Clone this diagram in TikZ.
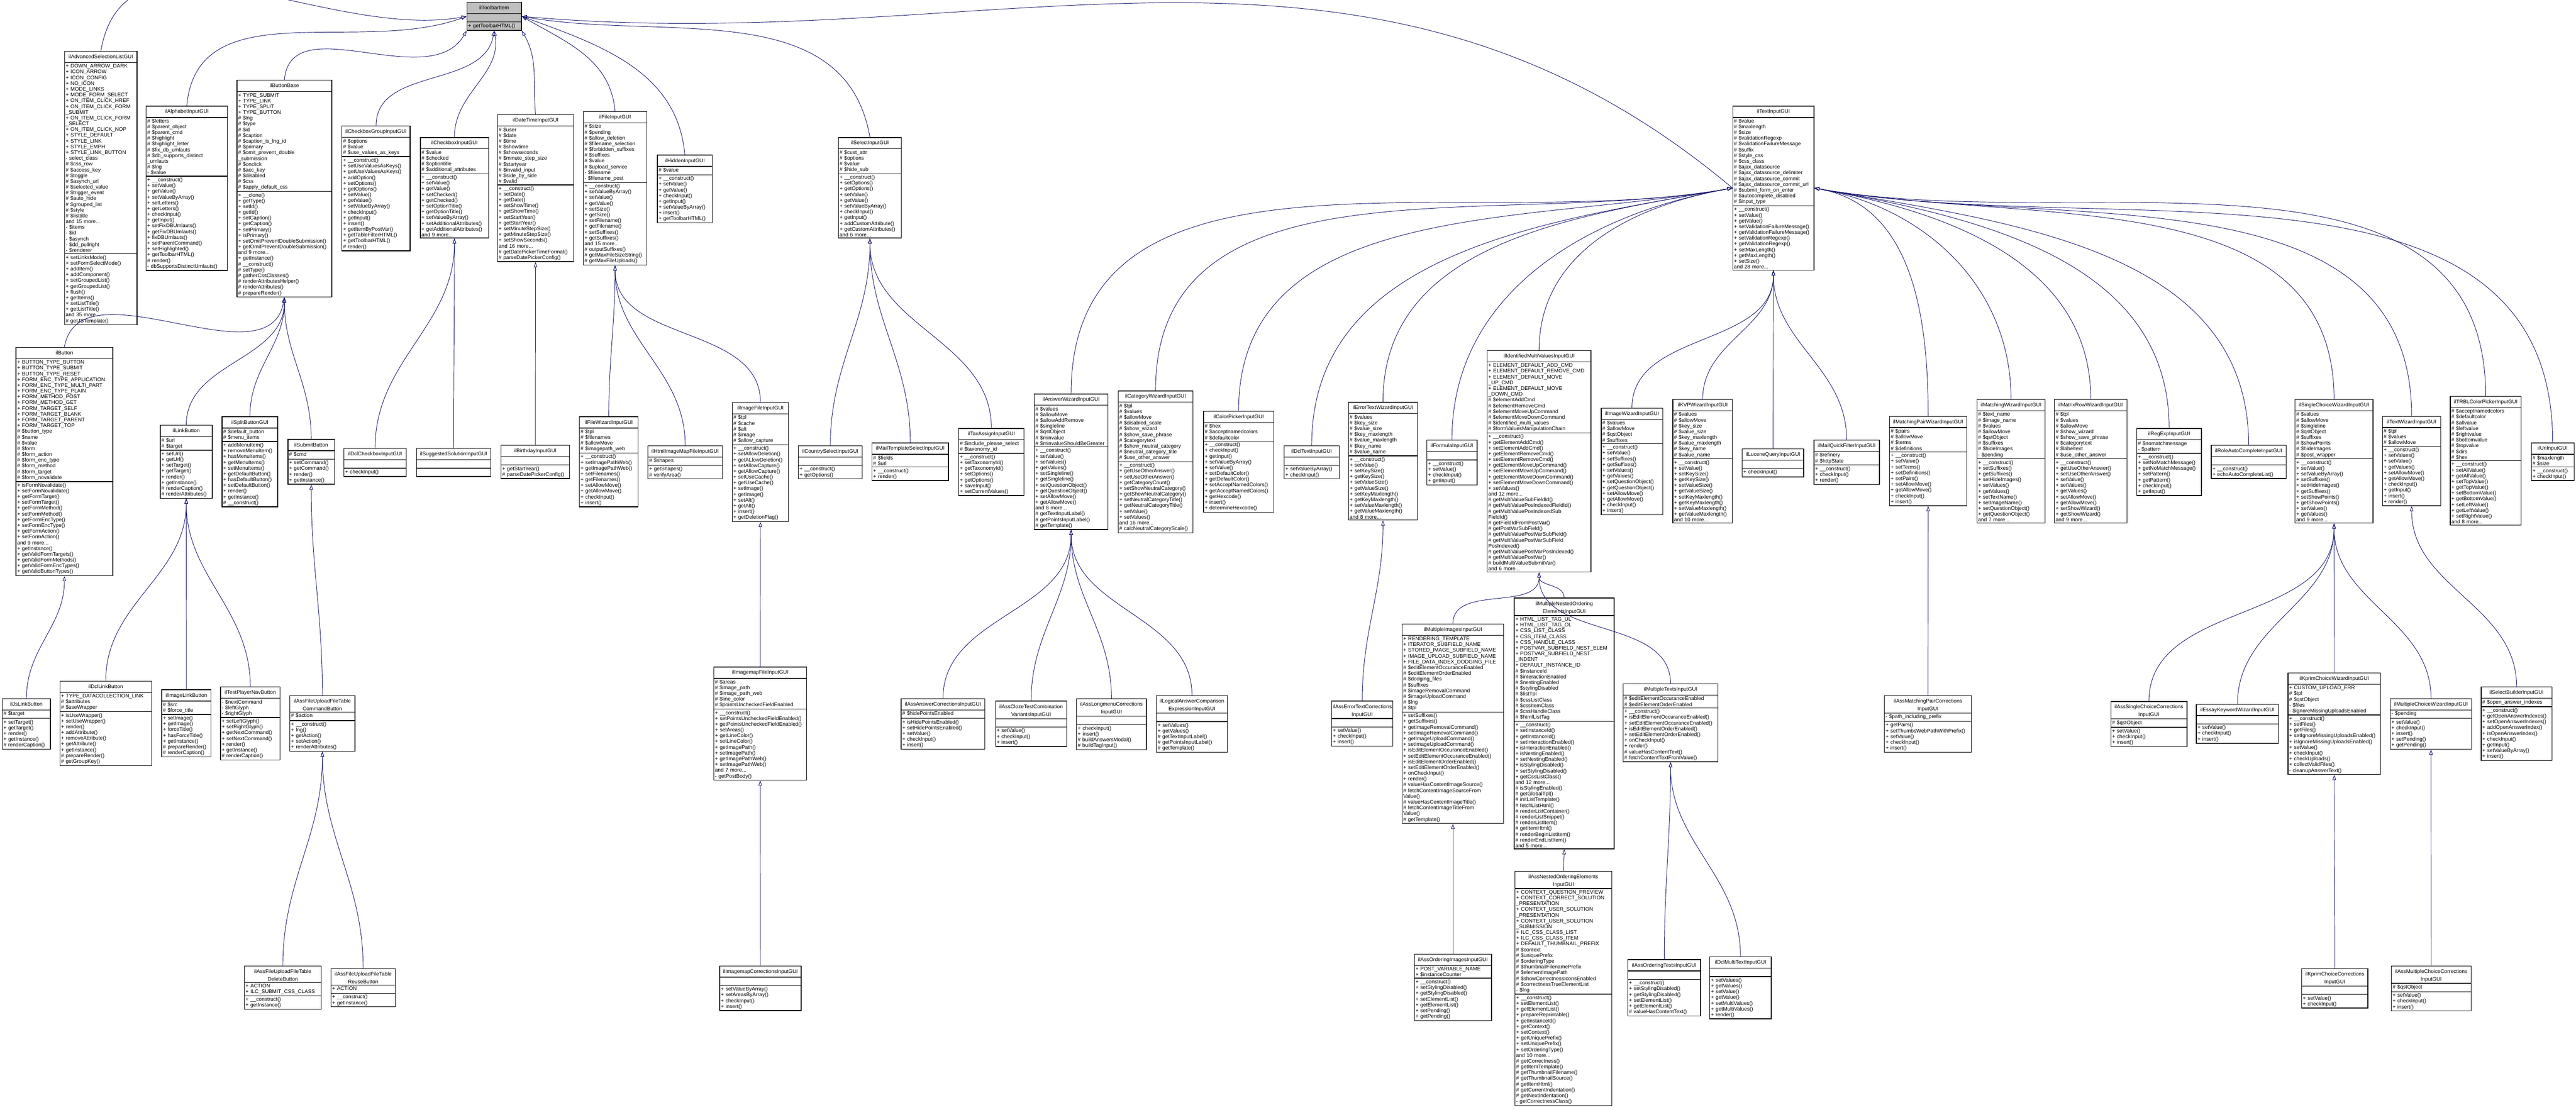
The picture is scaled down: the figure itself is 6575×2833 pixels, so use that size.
\documentclass[tikz,border=0pt]{standalone}
\usepackage{fontspec}
\setmainfont{Liberation Sans}
\usetikzlibrary{shapes.multipart,arrows.meta}
\definecolor{edge}{HTML}{191970}
\catcode`\_=12
\tikzset{
 cls/.style={rectangle split, rectangle split parts=3, draw=black, line width=0.5pt, fill=white,
   inner xsep=0.03cm, inner ysep=0.025cm, anchor=north west, font=\fontsize{3.8}{4.18}\selectfont},
 inh/.style={draw=edge, line width=0.35pt, -{Triangle[open,length=0.13cm,width=0.09cm]}}
}
\newcommand\cls[8][]{%
 \pgfmathsetlengthmacro\clstw{(#4-6)*0.01cm}%
 \node[cls,text width=\clstw,#1] (#2) at (#3) {\centering\rule[-0.07cm]{0pt}{0.22cm}#5\par\nodepart{two}\raggedright\strut #6\nodepart{three}\raggedright\strut #7#8};}
\newcommand\inh[2]{\draw[inh] (#1.north) to[out=90,in=-90] (#2.south);}
\begin{document}
\begin{tikzpicture}[x=0.01cm,y=-0.01cm]
\useasboundingbox (0,0) rectangle (6575,2833);
% ---- row 0
\cls[fill=black!25]{tb}{1191,5}{139}{ilToolbarItem}{}{+ getToolbarHTML()}{}
% ---- row 1
\cls{advsel}{164,130}{185}{ilAdvancedSelectionListGUI}{+ DOWN_ARROW_DARK\\+ ICON_ARROW\\+ ICON_CONFIG\\+ NO_ICON\\+ MODE_LINKS\\+ MODE_FORM_SELECT\\+ ON_ITEM_CLICK_HREF\\+ ON_ITEM_CLICK_FORM\\ _SUBMIT\\+ ON_ITEM_CLICK_FORM\\ _SELECT\\+ ON_ITEM_CLICK_NOP\\+ STYLE_DEFAULT\\+ STYLE_LINK\\+ STYLE_EMPH\\+ STYLE_LINK_BUTTON\\- select_class\\\# \$css_row\\\# \$access_key\\\# \$toggle\\\# \$asynch_url\\\# \$selected_value\\\# \$trigger_event\\\# \$auto_hide\\\# \$grouped_list\\\# \$style\\\# \$listtitle\\and 15 more...\\- \$items\\- \$id\\- \$asynch\\- \$dd_pullright\\- \$renderer}{+ setLinksMode()\\+ setFormSelectMode()\\+ addItem()\\+ addComponent()\\+ setGroupedList()\\+ getGroupedList()\\+ flush()\\+ getItems()\\+ setListTitle()\\+ getListTitle()\\and 35 more...\\\# getJSTemplate()}{}
\cls{alpha}{372,270}{208}{ilAlphabetInputGUI}{\# \$letters\\\# \$parent_object\\\# \$parent_cmd\\\# \$highlight\\\# \$highlight_letter\\\# \$fix_db_umlauts\\\# \$db_supports_distinct\\ _umlauts\\\# \$lng\\- \$value}{+ __construct()\\+ setValue()\\+ getValue()\\+ setValueByArray()\\+ setLetters()\\+ getLetters()\\+ checkInput()\\+ getInput()\\+ setFixDBUmlauts()\\+ getFixDBUmlauts()\\+ fixDBUmlauts()\\+ setParentCommand()\\+ setHighlighted()\\+ getToolbarHTML()\\\# render()\\- dbSupportsDistinctUmlauts()}{}
\cls{bbase}{604,204}{242}{ilButtonBase}{+ TYPE_SUBMIT\\+ TYPE_LINK\\+ TYPE_SPLIT\\+ TYPE_BUTTON\\\# \$lng\\\# \$type\\\# \$id\\\# \$caption\\\# \$caption_is_lng_id\\\# \$primary\\\# \$omit_prevent_double\\ _submission\\\# \$onclick\\\# \$acc_key\\\# \$disabled\\\# \$css\\\# \$apply_default_css}{+ __clone()\\+ getType()\\+ setId()\\+ getId()\\+ setCaption()\\+ getCaption()\\+ setPrimary()\\+ isPrimary()\\+ setOmitPreventDoubleSubmission()\\+ getOmitPreventDoubleSubmission()\\and 9 more...\\+ getInstance()\\\# __construct()\\\# setType()\\\# gatherCssClasses()\\\# renderAttributesHelper()\\\# renderAttributes()\\\# prepareRender()}{}
\cls{cbgroup}{872,321}{174}{ilCheckboxGroupInputGUI}{\# \$options\\\# \$value\\\# \$use_values_as_keys}{+ __construct()\\+ setUseValuesAsKeys()\\+ getUseValuesAsKeys()\\+ addOption()\\+ setOptions()\\+ getOptions()\\+ setValue()\\+ getValue()\\+ setValueByArray()\\+ checkInput()\\+ getInput()\\+ insert()\\+ getItemByPostVar()\\+ getTableFilterHTML()\\+ getToolbarHTML()\\\# render()}{}
\cls{cbox}{1072,350}{174}{ilCheckboxInputGUI}{\# \$value\\\# \$checked\\\# \$optiontitle\\\# \$additional_attributes}{+ __construct()\\+ setValue()\\+ getValue()\\+ setChecked()\\+ getChecked()\\+ setOptionTitle()\\+ getOptionTitle()\\+ setValueByArray()\\+ setAdditionalAttributes()\\+ getAdditionalAttributes()\\and 9 more...}{}
\cls{dt}{1269,292}{194}{ilDateTimeInputGUI}{\# \$user\\\# \$date\\\# \$time\\\# \$showtime\\\# \$showseconds\\\# \$minute_step_size\\\# \$startyear\\\# \$invalid_input\\\# \$side_by_side\\\# \$valid}{+ __construct()\\+ setDate()\\+ getDate()\\+ setShowTime()\\+ getShowTime()\\+ setStartYear()\\+ getStartYear()\\+ setMinuteStepSize()\\+ getMinuteStepSize()\\+ setShowSeconds()\\and 16 more...\\\# getDatePickerTimeFormat()\\\# parseDatePickerConfig()}{}
\cls{file}{1488,284}{162}{ilFileInputGUI}{\# \$size\\\# \$pending\\\# \$allow_deletion\\\# \$filename_selection\\\# \$forbidden_suffixes\\\# \$suffixes\\\# \$value\\\# \$upload_service\\- \$filename\\- \$filename_post}{+ __construct()\\+ setValueByArray()\\+ setValue()\\+ getValue()\\+ setSize()\\+ getSize()\\+ setFilename()\\+ getFilename()\\+ setSuffixes()\\+ getSuffixes()\\and 15 more...\\\# outputSuffixes()\\\# getMaxFileSizeString()\\\# getMaxFileUploads()}{}
\cls{hidden}{1677,395}{140}{ilHiddenInputGUI}{\# \$value}{+ __construct()\\+ setValue()\\+ getValue()\\+ checkInput()\\+ getInput()\\+ setValueByArray()\\+ insert()\\+ getToolbarHTML()}{}
\cls{select}{2139,350}{161}{ilSelectInputGUI}{\# \$cust_attr\\\# \$options\\\# \$value\\\# \$hide_sub}{+ __construct()\\+ setOptions()\\+ getOptions()\\+ setValue()\\+ getValue()\\+ setValueByArray()\\+ checkInput()\\+ getInput()\\+ addCustomAttribute()\\+ getCustomAttributes()\\and 6 more...}{}
\cls{ti}{4422,270}{207}{ilTextInputGUI}{\# \$value\\\# \$maxlength\\\# \$size\\\# \$validationRegexp\\\# \$validationFailureMessage\\\# \$suffix\\\# \$style_css\\\# \$css_class\\\# \$ajax_datasource\\\# \$ajax_datasource_delimiter\\\# \$ajax_datasource_commit\\\# \$ajax_datasource_commit_url\\\# \$submit_form_on_enter\\\# \$autocomplete_disabled\\\# \$input_type}{+ __construct()\\+ setValue()\\+ getValue()\\+ setValidationFailureMessage()\\+ getValidationFailureMessage()\\+ setValidationRegexp()\\+ getValidationRegexp()\\+ setMaxLength()\\+ getMaxLength()\\+ setSize()\\and 28 more...}{}
% ---- row 2
\cls{button}{40,886}{247}{ilButton}{+ BUTTON_TYPE_BUTTON\\+ BUTTON_TYPE_SUBMIT\\+ BUTTON_TYPE_RESET\\+ FORM_ENC_TYPE_APPLICATION\\+ FORM_ENC_TYPE_MULTI_PART\\+ FORM_ENC_TYPE_PLAIN\\+ FORM_METHOD_POST\\+ FORM_METHOD_GET\\+ FORM_TARGET_SELF\\+ FORM_TARGET_BLANK\\+ FORM_TARGET_PARENT\\+ FORM_TARGET_TOP\\\# \$button_type\\\# \$name\\\# \$value\\\# \$form\\\# \$form_action\\\# \$form_enc_type\\\# \$form_method\\\# \$form_target\\\# \$form_novalidate}{+ isFormNovalidate()\\+ setFormNovalidate()\\+ getFormTarget()\\+ setFormTarget()\\+ getFormMethod()\\+ setFormMethod()\\+ getFormEncType()\\+ setFormEncType()\\+ getFormAction()\\+ setFormAction()\\and 9 more...\\+ getInstance()\\+ getValidFormTargets()\\+ getValidFormMethods()\\+ getValidFormEncTypes()\\+ getValidButtonTypes()}{}
\cls{link}{408,1085}{133}{ilLinkButton}{\# \$url\\\# \$target}{+ setUrl()\\+ getUrl()\\+ setTarget()\\+ getTarget()\\+ render()\\+ getInstance()\\\# renderCaption()\\\# renderAttributes()}{}
\cls{split}{566,1063}{142}{ilSplitButtonGUI}{\# \$default_button\\\# \$menu_items}{+ addMenuItem()\\+ removeMenuItem()\\+ hasMenuItems()\\+ getMenuItems()\\+ setMenuItems()\\+ getDefaultButton()\\+ hasDefaultButton()\\+ setDefaultButton()\\+ render()\\+ getInstance()\\\# __construct()}{}
\cls{submit}{734,1121}{119}{ilSubmitButton}{\# \$cmd}{+ setCommand()\\+ getCommand()\\+ render()\\+ getInstance()}{}
\cls{dclcb}{877,1144}{159}{ilDclCheckboxInputGUI}{}{+ checkInput()}{}
\cls{sugg}{1062,1144}{190}{ilSuggestedSolutionInputGUI}{}{}{}
\cls{birth}{1278,1136}{175}{ilBirthdayInputGUI}{}{+ getStartYear()\\\# parseDatePickerConfig()}{}
\cls{fwiz}{1478,1063}{150}{ilFileWizardInputGUI}{\# \$tpl\\\# \$filenames\\\# \$allowMove\\\# \$imagepath_web}{+ __construct()\\+ setImagePathWeb()\\+ getImagePathWeb()\\+ setFilenames()\\+ getFilenames()\\+ setAllowMove()\\+ getAllowMove()\\+ checkInput()\\+ insert()}{}
\cls{htmlmap}{1653,1137}{190}{ilHtmlImageMapFileInputGUI}{\# \$shapes}{+ getShapes()\\\# verifyArea()}{}
\cls{imgfile}{1868,1027}{144}{ilImageFileInputGUI}{\# \$tpl\\\# \$cache\\\# \$alt\\\# \$image\\\# \$allow_capture}{+ __construct()\\+ setAllowDeletion()\\+ getALlowDeletion()\\+ setAllowCapture()\\+ getAllowCapture()\\+ setUseCache()\\+ getUseCache()\\+ setImage()\\+ getImage()\\+ setAlt()\\+ getAlt()\\+ insert()\\+ getDeletionFlag()}{}
\cls{country}{2037,1137}{163}{ilCountrySelectInputGUI}{}{+ __construct()\\+ getOptions()}{}
\cls{mailtpl}{2225,1130}{195}{ilMailTemplateSelectInputGUI}{\# \$fields\\\# \$url}{+ __construct()\\+ render()}{}
\cls{tax}{2446,1093}{167}{ilTaxAssignInputGUI}{\# \$include_please_select\\\# \$taxonomy_id}{+ __construct()\\+ setTaxonomyId()\\+ getTaxonomyId()\\+ setOptions()\\+ getOptions()\\+ saveInput()\\+ setCurrentValues()}{}
\cls{answiz}{2639,1005}{188}{ilAnswerWizardInputGUI}{\# \$values\\\# \$allowMove\\\# \$allowAddRemove\\\# \$singleline\\\# \$qstObject\\\# \$minvalue\\\# \$minvalueShouldBeGreater}{+ __construct()\\+ setValue()\\+ setValues()\\+ getValues()\\+ setSingleline()\\+ getSingleline()\\+ setQuestionObject()\\+ getQuestionObject()\\+ setAllowMove()\\+ getAllowMove()\\and 8 more...\\\# getTextInputLabel()\\\# getPointsInputLabel()\\\# getTemplate()}{}
\cls{catwiz}{2853,997}{191}{ilCategoryWizardInputGUI}{\# \$tpl\\\# \$values\\\# \$allowMove\\\# \$disabled_scale\\\# \$show_wizard\\\# \$show_save_phrase\\\# \$categorytext\\\# \$show_neutral_category\\\# \$neutral_category_title\\\# \$use_other_answer}{+ __construct()\\+ getUseOtherAnswer()\\+ setUseOtherAnswer()\\+ getCategoryCount()\\+ setShowNeutralCategory()\\+ getShowNeutralCategory()\\+ setNeutralCategoryTitle()\\+ getNeutralCategoryTitle()\\+ setValue()\\+ setValues()\\and 16 more...\\\# calcNeutralCategoryScale()}{}
\cls{color}{3071,1049}{179}{ilColorPickerInputGUI}{\# \$hex\\\# \$acceptnamedcolors\\\# \$defaultcolor}{+ __construct()\\+ checkInput()\\+ getInput()\\+ setValueByArray()\\+ setValue()\\+ setDefaultColor()\\+ getDefaultColor()\\+ setAcceptNamedColors()\\+ getAcceptNamedColors()\\+ getHexcode()\\+ insert()\\+ determineHexcode()}{}
\cls{dcltext}{3277,1137}{140}{ilDclTextInputGUI}{}{+ setValueByArray()\\+ checkInput()}{}
\cls{errwiz}{3441,1026}{176}{ilErrorTextWizardInputGUI}{\# \$values\\\# \$key_size\\\# \$value_size\\\# \$key_maxlength\\\# \$value_maxlength\\\# \$key_name\\\# \$value_name}{+ __construct()\\+ setValue()\\+ setKeySize()\\+ getKeySize()\\+ setValueSize()\\+ getValueSize()\\+ setKeyMaxlength()\\+ getKeyMaxlength()\\+ setValueMaxlength()\\+ getValueMaxlength()\\and 8 more...}{}
\cls{formula}{3641,1123}{128}{ilFormulaInputGUI}{}{+ __construct()\\+ setValue()\\+ checkInput()\\+ getInput()}{}
\cls{idmulti}{3795,894}{265}{ilIdentifiedMultiValuesInputGUI}{+ ELEMENT_DEFAULT_ADD_CMD\\+ ELEMENT_DEFAULT_REMOVE_CMD\\+ ELEMENT_DEFAULT_MOVE\\ _UP_CMD\\+ ELEMENT_DEFAULT_MOVE\\ _DOWN_CMD\\\# \$elementAddCmd\\\# \$elementRemoveCmd\\\# \$elementMoveUpCommand\\\# \$elementMoveDownCommand\\\# \$identified_multi_values\\\# \$formValuesManipulationChain}{+ __construct()\\+ getElementAddCmd()\\+ setElementAddCmd()\\+ getElementRemoveCmd()\\+ setElementRemoveCmd()\\+ getElementMoveUpCommand()\\+ setElementMoveUpCommand()\\+ getElementMoveDownCommand()\\+ setElementMoveDownCommand()\\+ setValues()\\and 12 more...\\\# getMultiValueSubFieldId()\\\# getMultiValuePosIndexedFieldId()\\\# getMultiValuePosIndexedSub\\FieldId()\\\# getFieldIdFromPostVar()\\\# getPostVarSubField()\\\# getMultiValuePostVarSubField()\\\# getMultiValuePostVarSubField\\PosIndexed()\\\# getMultiValuePostVarPosIndexed()\\\# getMultiValuePostVar()\\\# buildMultiValueSubmitVar()\\and 6 more...}{}
\cls{imgwiz}{4086,1041}{157}{ilImageWizardInputGUI}{\# \$values\\\# \$allowMove\\\# \$qstObject\\\# \$suffixes}{+ __construct()\\+ setValue()\\+ setSuffixes()\\+ getSuffixes()\\+ setValues()\\+ getValues()\\+ setQuestionObject()\\+ getQuestionObject()\\+ setAllowMove()\\+ getAllowMove()\\+ checkInput()\\+ insert()}{}
\cls{kvp}{4269,1019}{152}{ilKVPWizardInputGUI}{\# \$values\\\# \$allowMove\\\# \$key_size\\\# \$value_size\\\# \$key_maxlength\\\# \$value_maxlength\\\# \$key_name\\\# \$value_name}{+ __construct()\\+ setValue()\\+ setKeySize()\\+ getKeySize()\\+ setValueSize()\\+ getValueSize()\\+ setKeyMaxlength()\\+ getKeyMaxlength()\\+ setValueMaxlength()\\+ getValueMaxlength()\\and 10 more...}{}
\cls{lucene}{4446,1145}{157}{ilLuceneQueryInputGUI}{}{+ checkInput()}{}
\cls{mailqf}{4629,1123}{167}{ilMailQuickFilterInputGUI}{\# \$refinery\\\# \$httpState}{+ __construct()\\+ checkInput()\\+ render()}{}
\cls{mpair}{4822,1062}{197}{ilMatchingPairWizardInputGUI}{\# \$pairs\\\# \$allowMove\\\# \$terms\\\# \$definitions}{+ __construct()\\+ setValue()\\+ setTerms()\\+ setDefinitions()\\+ setPairs()\\+ setAllowMove()\\+ getAllowMove()\\+ checkInput()\\+ insert()}{}
\cls{mwiz}{5045,1019}{174}{ilMatchingWizardInputGUI}{\# \$text_name\\\# \$image_name\\\# \$values\\\# \$allowMove\\\# \$qstObject\\\# \$suffixes\\\# \$hideImages\\- \$pending}{+ __construct()\\+ setSuffixes()\\+ getSuffixes()\\+ setHideImages()\\+ setValues()\\+ getValues()\\+ setTextName()\\+ setImageName()\\+ setQuestionObject()\\+ getQuestionObject()\\and 7 more...}{}
\cls{matrix}{5243,1019}{185}{ilMatrixRowWizardInputGUI}{\# \$tpl\\\# \$values\\\# \$allowMove\\\# \$show_wizard\\\# \$show_save_phrase\\\# \$categorytext\\\# \$labeltext\\\# \$use_other_answer}{+ __construct()\\+ getUseOtherAnswer()\\+ setUseOtherAnswer()\\+ setValue()\\+ setValues()\\+ getValues()\\+ setAllowMove()\\+ getAllowMove()\\+ setShowWizard()\\+ getShowWizard()\\and 9 more...}{}
\cls{regexp}{5453,1093}{165}{ilRegExpInputGUI}{\# \$nomatchmessage\\- \$pattern}{+ __construct()\\+ setNoMatchMessage()\\+ getNoMatchMessage()\\+ setPattern()\\+ getPattern()\\+ checkInput()\\+ getInput()}{}
\cls{role}{5643,1136}{191}{ilRoleAutoCompleteInputGUI}{}{+ __construct()\\+ echoAutoCompleteList()}{}
\cls{scwiz}{5857,1019}{199}{ilSingleChoiceWizardInputGUI}{\# \$values\\\# \$allowMove\\\# \$singleline\\\# \$qstObject\\\# \$suffixes\\\# \$showPoints\\\# \$hideImages\\\# \$post_wrapper}{+ __construct()\\+ setValue()\\+ setValueByArray()\\+ setSuffixes()\\+ setHideImages()\\+ getSuffixes()\\+ setShowPoints()\\+ getShowPoints()\\+ setValues()\\+ getValues()\\and 9 more...}{}
\cls{txtwiz}{6080,1062}{149}{ilTextWizardInputGUI}{\# \$tpl\\\# \$values\\\# \$allowMove}{+ __construct()\\+ setValues()\\+ setValue()\\+ getValues()\\+ setAllowMove()\\+ getAllowMove()\\+ checkInput()\\+ getInput()\\+ insert()\\+ render()}{}
\cls{trbl}{6253,1011}{181}{ilTRBLColorPickerInputGUI}{\# \$acceptnamedcolors\\\# \$defaultcolor\\\# \$allvalue\\\# \$leftvalue\\\# \$rightvalue\\\# \$bottomvalue\\\# \$topvalue\\\# \$dirs\\\# \$hex}{+ __construct()\\+ setAllValue()\\+ getAllValue()\\+ setTopValue()\\+ getTopValue()\\+ setBottomValue()\\+ getBottomValue()\\+ setLeftValue()\\+ getLeftValue()\\+ setRightValue()\\and 8 more...}{}
\cls{uri}{6460,1130}{109}{ilUriInputGUI}{\# \$maxlength\\\# \$size}{+ __construct()\\+ checkInput()}{}
% ---- row 3
\cls{jslink}{5,1783}{123}{ilJsLinkButton}{\# \$target}{+ setTarget()\\+ getTarget()\\+ render()\\+ getInstance()\\\# renderCaption()}{}
\cls{dcllink}{152,1738}{234}{ilDclLinkButton}{+ TYPE_DATACOLLECTION_LINK\\\# \$attributes\\\# \$useWrapper}{+ isUseWrapper()\\+ setUseWrapper()\\+ render()\\+ addAttribute()\\+ removeAttribute()\\+ getAttribute()\\+ getInstance()\\\# prepareRender()\\\# getGroupKey()}{}
\cls{imglink}{412,1760}{126}{ilImageLinkButton}{\# \$src\\\# \$force_title}{+ setImage()\\+ getImage()\\+ forceTitle()\\+ hasForceTitle()\\+ getInstance()\\\# prepareRender()\\\# renderCaption()}{}
\cls{tpnav}{562,1753}{152}{ilTestPlayerNavButton}{- \$nextCommand\\- \$leftGlyph\\- \$rightGlyph}{+ setLeftGlyph()\\+ setRightGlyph()\\+ getNextCommand()\\+ setNextCommand()\\+ render()\\+ getInstance()\\\# renderCaption()}{}
\cls{cmdbtn}{739,1775}{166}{ilAssFileUploadFileTable\\CommandButton}{\# \$action}{+ __construct()\\+ lng()\\+ getAction()\\+ setAction()\\+ renderAttributes()}{}
\cls{imgmap}{1821,1702}{237}{ilImagemapFileInputGUI}{\# \$areas\\\# \$image_path\\\# \$image_path_web\\\# \$line_color\\\# \$pointsUncheckedFieldEnabled}{+ __construct()\\+ setPointsUncheckedFieldEnabled()\\+ getPointsUncheckedFieldEnabled()\\+ setAreas()\\+ getLineColor()\\+ setLineColor()\\+ getImagePath()\\+ setImagePath()\\+ getImagePathWeb()\\+ setImagePathWeb()\\and 7 more...\\- getPostBody()}{}
\cls{anscorr}{2299,1783}{214}{ilAssAnswerCorrectionsInputGUI}{\# \$hidePointsEnabled}{+ isHidePointsEnabled()\\+ setHidePointsEnabled()\\+ setValue()\\+ checkInput()\\+ insert()}{}
\cls{cloze}{2540,1789}{182}{ilAssClozeTestCombination\\VariantsInputGUI}{}{+ setValue()\\+ checkInput()\\+ insert()}{}
\cls{longmenu}{2747,1783}{178}{ilAssLongmenuCorrections\\InputGUI}{}{+ checkInput()\\+ insert()\\\# buildAnswersModal()\\\# buildTagInput()}{}
\cls{logical}{2951,1775}{181}{ilLogicalAnswerComparison\\ExpressionInputGUI}{}{+ setValues()\\+ getValues()\\\# getTextInputLabel()\\\# getPointsInputLabel()\\\# getTemplate()}{}
\cls{errcorr}{3398,1789}{156}{ilAssErrorTextCorrections\\InputGUI}{}{+ setValue()\\+ checkInput()\\+ insert()}{}
\cls{mimages}{3578,1592}{259}{ilMultipleImagesInputGUI}{+ RENDERING_TEMPLATE\\+ ITERATOR_SUBFIELD_NAME\\+ STORED_IMAGE_SUBFIELD_NAME\\+ IMAGE_UPLOAD_SUBFIELD_NAME\\+ FILE_DATA_INDEX_DODGING_FILE\\\# \$editElementOccuranceEnabled\\\# \$editElementOrderEnabled\\\# \$dodging_files\\\# \$suffixes\\\# \$imageRemovalCommand\\\# \$imageUploadCommand\\\# \$lng\\\# \$tpl}{+ setSuffixes()\\+ getSuffixes()\\+ getImageRemovalCommand()\\+ setImageRemovalCommand()\\+ getImageUploadCommand()\\+ setImageUploadCommand()\\+ isEditElementOccuranceEnabled()\\+ setEditElementOccuranceEnabled()\\+ isEditElementOrderEnabled()\\+ setEditElementOrderEnabled()\\+ onCheckInput()\\+ render()\\\# valueHasContentImageSource()\\\# fetchContentImageSourceFrom\\Value()\\\# valueHasContentImageTitle()\\\# fetchContentImageTitleFrom\\Value()\\\# getTemplate()}{}
\cls{mnested}{3864,1526}{255}{ilMultipleNestedOrdering\\ElementsInputGUI}{+ HTML_LIST_TAG_UL\\+ HTML_LIST_TAG_OL\\+ CSS_LIST_CLASS\\+ CSS_ITEM_CLASS\\+ CSS_HANDLE_CLASS\\+ POSTVAR_SUBFIELD_NEST_ELEM\\+ POSTVAR_SUBFIELD_NEST\\ _INDENT\\+ DEFAULT_INSTANCE_ID\\\# \$instanceId\\\# \$interactionEnabled\\\# \$nestingEnabled\\\# \$stylingDisabled\\\# \$listTpl\\\# \$cssListClass\\\# \$cssItemClass\\\# \$cssHandleClass\\\# \$htmlListTag}{+ __construct()\\+ setInstanceId()\\+ getInstanceId()\\+ setInteractionEnabled()\\+ isInteractionEnabled()\\+ isNestingEnabled()\\+ setNestingEnabled()\\+ isStylingDisabled()\\+ setStylingDisabled()\\+ getCssListClass()\\and 12 more...\\\# isStylingEnabled()\\\# getGlobalTpl()\\\# initListTemplate()\\\# fetchListHtml()\\\# renderListContainer()\\\# renderListSnippet()\\\# renderListItem()\\\# getItemHtml()\\\# renderBeginListItem()\\\# renderEndListItem()\\and 5 more...}{}
\cls{mtexts}{4142,1745}{242}{ilMultipleTextsInputGUI}{\# \$editElementOccuranceEnabled\\\# \$editElementOrderEnabled}{+ __construct()\\+ isEditElementOccuranceEnabled()\\+ setEditElementOccuranceEnabled()\\+ isEditElementOrderEnabled()\\+ setEditElementOrderEnabled()\\+ onCheckInput()\\+ render()\\\# valueHasContentText()\\\# fetchContentTextFromValue()}{}
\cls{mpcorr}{4809,1775}{222}{ilAssMatchingPairCorrections\\InputGUI}{- \$path_including_prefix}{+ getPairs()\\+ setThumbsWebPathWithPrefix()\\+ setValue()\\+ checkInput()\\+ insert()}{}
\cls{sccorr}{5387,1790}{194}{ilAssSingleChoiceCorrections\\InputGUI}{\# \$qstObject}{+ setValue()\\+ checkInput()\\+ insert()}{}
\cls{essay}{5605,1797}{210}{ilEssayKeywordWizardInputGUI}{}{+ setValue()\\+ checkInput()\\+ insert()}{}
\cls{kprim}{5839,1717}{236}{ilKprimChoiceWizardInputGUI}{+ CUSTOM_UPLOAD_ERR\\\# \$tpl\\\# \$qstObject\\- \$files\\- \$ignoreMissingUploadsEnabled}{+ __construct()\\+ setFiles()\\+ getFiles()\\+ setIgnoreMissingUploadsEnabled()\\+ isIgnoreMissingUploadsEnabled()\\+ setValue()\\+ checkInput()\\+ checkUploads()\\+ collectValidFiles()\\- cleanupAnswerText()}{}
\cls{mcwiz}{6100,1783}{208}{ilMultipleChoiceWizardInputGUI}{- \$pending}{+ setValue()\\+ checkInput()\\+ insert()\\+ setPending()\\+ getPending()}{}
\cls{selbuild}{6332,1753}{181}{ilSelectBuilderInputGUI}{\# \$open_answer_indexes}{+ __construct()\\+ getOpenAnswerIndexes()\\+ setOpenAnswerIndexes()\\+ addOpenAnswerIndex()\\+ isOpenAnswerIndex()\\+ checkInput()\\+ getInput()\\+ setValueByArray()\\+ insert()}{}
% ---- row 4
\cls{delbtn}{623,2465}{196}{ilAssFileUploadFileTable\\DeleteButton}{+ ACTION\\+ ILC_SUBMIT_CSS_CLASS}{+ __construct()\\+ getInstance()}{}
\cls{reubtn}{844,2472}{164}{ilAssFileUploadFileTable\\ReuseButton}{+ ACTION}{+ __construct()\\+ getInstance()}{}
\cls{imgmapcorr}{1836,2465}{208}{ilImagemapCorrectionsInputGUI}{}{+ setValueByArray()\\+ setAreasByArray()\\+ checkInput()\\+ insert()}{}
\cls{ordimg}{3609,2435}{197}{ilAssOrderingImagesInputGUI}{+ POST_VARIABLE_NAME\\+ \$instanceCounter}{+ __construct()\\+ setStylingDisabled()\\+ getStylingDisabled()\\+ setElementList()\\+ getElementList()\\+ setPending()\\+ getPending()}{}
\cls{nested}{3866,2223}{247}{ilAssNestedOrderingElements\\InputGUI}{+ CONTEXT_QUESTION_PREVIEW\\+ CONTEXT_CORRECT_SOLUTION\\ _PRESENTATION\\+ CONTEXT_USER_SOLUTION\\ _PRESENTATION\\+ CONTEXT_USER_SOLUTION\\ _SUBMISSION\\+ ILC_CSS_CLASS_LIST\\+ ILC_CSS_CLASS_ITEM\\+ DEFAULT_THUMBNAIL_PREFIX\\\# \$context\\\# \$uniquePrefix\\\# \$orderingType\\\# \$thumbnailFilenamePrefix\\\# \$elementImagePath\\\# \$showCorrectnessIconsEnabled\\\# \$correctnessTrueElementList\\- \$lng}{+ __construct()\\+ setElementList()\\+ getElementList()\\+ prepareReprintable()\\+ getInstanceId()\\+ getContext()\\+ setContext()\\+ getUniquePrefix()\\+ setUniquePrefix()\\+ setOrderingType()\\and 10 more...\\\# getCorrectness()\\\# getItemTemplate()\\\# getThumbnailFilename()\\\# getThumbnailSource()\\\# getItemHtml()\\\# getCurrentIndentation()\\\# getNextIndentation()\\- getCorrectnessClass()}{}
\cls{ordtxt}{4154,2449}{186}{ilAssOrderingTextsInputGUI}{}{+ __construct()\\+ setStylingDisabled()\\+ getStylingDisabled()\\+ setElementList()\\+ getElementList()\\\# valueHasContentText()}{}
\cls{dclmulti}{4363,2442}{157}{ilDclMultiTextInputGUI}{}{+ setValues()\\+ getValues()\\+ setValue()\\+ getValue()\\+ setMultiValues()\\+ getMultiValues()\\+ render()}{}
\cls{kprimcorr}{5874,2472}{169}{ilKprimChoiceCorrections\\InputGUI}{}{+ setValue()\\+ checkInput()}{}
\cls{mccorr}{6103,2465}{203}{ilAssMultipleChoiceCorrections\\InputGUI}{\# \$qstObject}{+ setValue()\\+ checkInput()\\+ insert()}{}
% ---- edges to toolbar
\draw[inh] (advsel.north) to[out=80,in=190] (tb.west);
\draw[inh] (alpha.north) to[out=85,in=200] (tb.west);
\draw[inh] (bbase.north) to[out=85,in=240] (tb.south west);
\draw[inh] (cbgroup.north) to[out=90,in=260] (tb.south);
\draw[inh] (cbox.north) to[out=90,in=-80] (tb.south);
\draw[inh] (dt.north) to[out=95,in=-60] (tb.south east);
\draw[inh] (file.north) to[out=95,in=-30] (tb.east);
\draw[inh] (hidden.north) to[out=95,in=-20] (tb.east);
\draw[inh] (select.north) to[out=100,in=-10] (tb.east);
\draw[inh] (ti.west) to[out=140,in=-5] (tb.east);
% ---- button tree
\draw[inh] (button.north) to[out=80,in=-100] (bbase.south);
\inh{link}{bbase}\inh{split}{bbase}\inh{submit}{bbase}
\inh{jslink}{button}
\inh{dcllink}{link}\inh{imglink}{link}\inh{tpnav}{link}
\inh{cmdbtn}{submit}\inh{delbtn}{cmdbtn}\inh{reubtn}{cmdbtn}
% ---- row1 children
\inh{dclcb}{cbox}\inh{sugg}{cbox}\inh{birth}{dt}
\inh{fwiz}{file}\inh{htmlmap}{file}\inh{imgfile}{file}
\inh{country}{select}\inh{mailtpl}{select}\inh{tax}{select}
\inh{imgmap}{imgfile}\inh{imgmapcorr}{imgmap}
% ---- text input children
\foreach \c in {answiz,catwiz,color,dcltext,errwiz,formula,idmulti}{\draw[inh] (\c.north) to[out=90,in=190] (ti.west);}
\foreach \c in {imgwiz,kvp,lucene,mailqf}{\draw[inh] (\c.north) to[out=90,in=-90] (ti.south);}
\foreach \c in {mpair,mwiz,matrix,regexp,role,scwiz,txtwiz,trbl,uri}{\draw[inh] (\c.north) to[out=90,in=-10] (ti.east);}
\inh{anscorr}{answiz}\inh{cloze}{answiz}\inh{longmenu}{answiz}\inh{logical}{answiz}
\inh{errcorr}{errwiz}
\inh{mimages}{idmulti}\inh{mnested}{idmulti}\inh{mtexts}{idmulti}
\inh{ordimg}{mimages}\inh{nested}{mnested}\inh{ordtxt}{mtexts}\inh{dclmulti}{mtexts}
\inh{mpcorr}{mpair}
\inh{sccorr}{scwiz}\inh{essay}{scwiz}\inh{kprim}{scwiz}\inh{mcwiz}{scwiz}
\inh{selbuild}{txtwiz}
\inh{kprimcorr}{kprim}\inh{mccorr}{mcwiz}
\end{tikzpicture}
\end{document}
